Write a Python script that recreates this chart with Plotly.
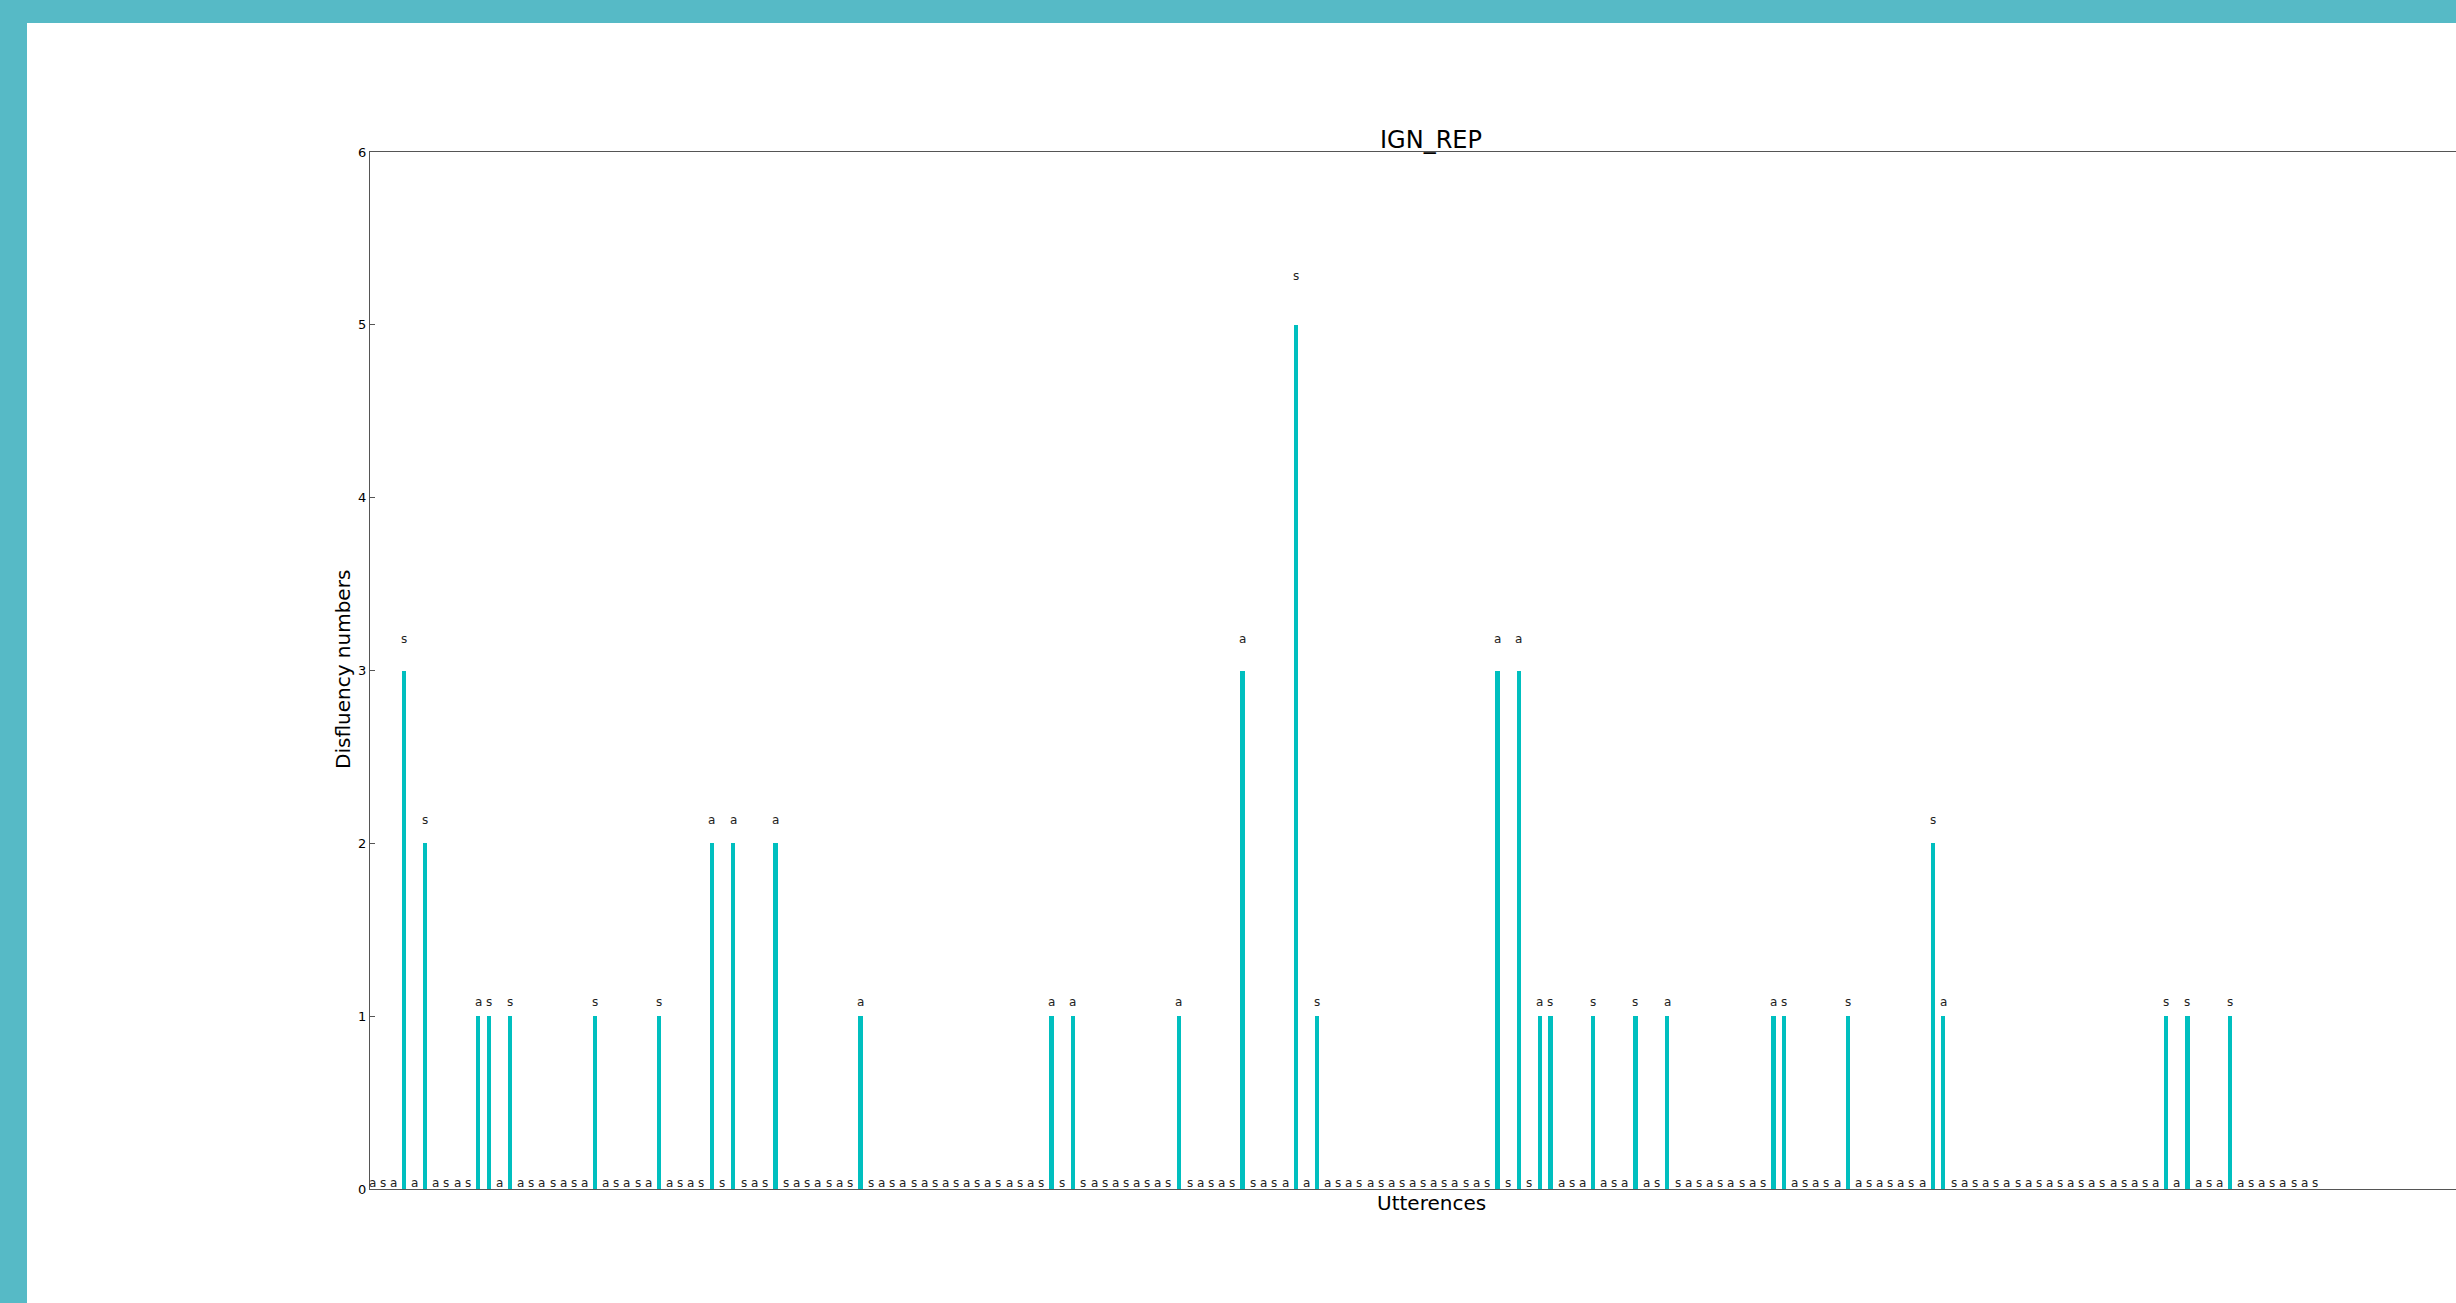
import plotly.graph_objects as go

# ---- data ----
title_text = "IGN_REP"
x_label = "Utterences"
y_label = "Disfluency numbers"

values = [
    0, 0, 0, 3, 0, 2, 0, 0, 0, 0, 1, 1, 0, 1, 0, 0, 0, 0, 0, 0,
    0, 1, 0, 0, 0, 0, 0, 1, 0, 0, 0, 0, 2, 0, 2, 0, 0, 0, 2, 0,
    0, 0, 0, 0, 0, 0, 1, 0, 0, 0, 0, 0, 0, 0, 0, 0, 0, 0, 0, 0,
    0, 0, 0, 0, 1, 0, 1, 0, 0, 0, 0, 0, 0, 0, 0, 0, 1, 0, 0, 0,
    0, 0, 3, 0, 0, 0, 0, 5, 0, 1, 0, 0, 0, 0, 0, 0, 0, 0, 0, 0,
    0, 0, 0, 0, 0, 0, 3, 0, 3, 0, 1, 1, 0, 0, 0, 1, 0, 0, 0, 1,
    0, 0, 1, 0, 0, 0, 0, 0, 0, 0, 0, 0, 1, 1, 0, 0, 0, 0, 0, 1,
    0, 0, 0, 0, 0, 0, 0, 2, 1, 0, 0, 0, 0, 0, 0, 0, 0, 0, 0, 0,
    0, 0, 0, 0, 0, 0, 0, 0, 0, 1, 0, 1, 0, 0, 0, 1, 0, 0, 0, 0,
    0, 0, 0, 0,
]
bar_labels = list(
    "asasasasasasasasasas"
    "asasasasasasasasasas"
    "asasasasasasasasasas"
    "asasasasasasasasasas"
    "asasasasasasasasasas"
    "asasasasasasasasasas"
    "asasasasasasasasasas"
    "asasasasasasasasasas"
    "asasasasasasasasasas"
    "asas"
)
y_ticks = [0, 1, 2, 3, 4, 5, 6]

# ---- layout constants ----
W, H = 2456, 1303
ML, MR, MT, MB = 370, 0, 152, 114
PW, PH = W - ML - MR, H - MT - MB
BAR_W = 0.4
X_MAX = 196.5
TEAL = "#56BAC6"
BAR_COLOR = "#00BFBF"
FONT = "DejaVu Sans"
AXIS_COLOR = "#555555"


def px_x(p):
    return (p - ML) / PW


def px_y(p):
    return (H - MB - p) / PH


idx = list(range(len(values)))
centers = [i + BAR_W / 2 for i in idx]

fig = go.Figure()
fig.add_trace(go.Bar(
    x=centers, y=values, width=BAR_W,
    marker=dict(color=BAR_COLOR, line=dict(width=0)),
    hoverinfo="x+y", showlegend=False,
))

annotations = []
for c, v, lab in zip(centers, values, bar_labels):
    annotations.append(dict(
        x=c, y=1.05 * v, xref="x", yref="y", text=lab, showarrow=False,
        xanchor="center", yanchor="bottom", yshift=-3,
        font=dict(family=FONT, size=12, color="#222222"),
    ))

annotations.append(dict(
    x=px_x(1431), y=1, xref="paper", yref="paper", text=title_text,
    showarrow=False, xanchor="center", yanchor="bottom", yshift=-4,
    font=dict(family=FONT, size=24, color="black"),
))
annotations.append(dict(
    x=px_x(1431), y=0, xref="paper", yref="paper", text=x_label,
    showarrow=False, xanchor="center", yanchor="top", yshift=0,
    font=dict(family=FONT, size=20, color="black"),
))
annotations.append(dict(
    x=px_x(343), y=px_y(670), xref="paper", yref="paper", text=y_label,
    showarrow=False, xanchor="center", yanchor="middle", textangle=-90,
    font=dict(family=FONT, size=20, color="black"),
))

shapes = [dict(
    type="rect", xref="paper", yref="paper", layer="below",
    x0=px_x(27), x1=px_x(W + 10), y0=px_y(H + 10), y1=px_y(23),
    fillcolor="white", line=dict(width=0),
)]

fig.update_layout(
    width=W, height=H, autosize=False,
    margin=dict(l=ML, r=MR, t=MT, b=MB, pad=0),
    paper_bgcolor=TEAL, plot_bgcolor="white",
    font=dict(family=FONT, color="black"),
    bargap=0, showlegend=False,
    annotations=annotations, shapes=shapes,
    xaxis=dict(
        range=[0, X_MAX], showgrid=False, zeroline=False,
        showline=True, linecolor=AXIS_COLOR, linewidth=1.3, mirror=True,
        showticklabels=False, ticks="",
    ),
    yaxis=dict(
        range=[0, 6], tickvals=y_ticks, showgrid=False, zeroline=False,
        showline=True, linecolor=AXIS_COLOR, linewidth=1.3, mirror=False,
        ticks="inside", ticklen=5, tickcolor=AXIS_COLOR, tickwidth=1,
        tickfont=dict(family=FONT, size=13, color="black"),
    ),
)

fig.write_html(
    "out.html",
    config={"displayModeBar": False},
    post_script="document.body.style.margin='0';document.body.style.overflow='hidden';",
)
